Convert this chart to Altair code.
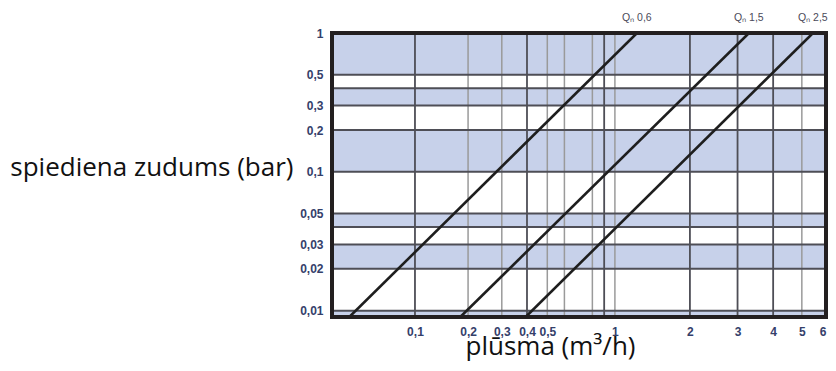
import altair as alt
import pandas as pd

# --- data -------------------------------------------------------------
series = ["Qₙ 0,6", "Qₙ 1,5", "Qₙ 2,5"]
q_top = [1.236, 3.295, 5.443]       # flow (m3/h) where each line meets 1 bar
q_bottom = [0.0379, 0.1815, 0.394]  # flow where each line meets the bottom edge
dp_top = 1.0
dp_bottom = 0.009

x_ticks = [0.1, 0.2, 0.3, 0.4, 0.5, 1, 2, 3, 4, 5, 6]
y_ticks = [1, 0.5, 0.3, 0.2, 0.1, 0.05, 0.03, 0.02, 0.01]

x_grid_major = [0.1, 0.4, 0.9, 2, 3, 4]
x_grid_minor = [0.2, 0.3, 0.5, 0.6, 0.8, 1, 5]
y_grid = [0.5, 0.4, 0.3, 0.2, 0.1, 0.05, 0.04, 0.03, 0.02, 0.01]

band_lo = [0.5, 0.3, 0.1, 0.04, 0.02, 0.009]
band_hi = [1, 0.4, 0.2, 0.05, 0.03, 0.01]

x_domain = [0.0286, 6]
y_domain = [0.009, 1]

# --- tables ------------------------------------------------------------
rows = []
for s, qb, qt in zip(series, q_bottom, q_top):
    rows.append({"series": s, "q": qb, "dp": dp_bottom})
    rows.append({"series": s, "q": qt, "dp": dp_top})
lines_df = pd.DataFrame(rows)
labels_df = pd.DataFrame({"series": series, "q": q_top, "dp": [dp_top] * 3})
bands_df = pd.DataFrame({"dp": band_lo, "hi": band_hi})
vmaj_df = pd.DataFrame({"q": x_grid_major})
vmin_df = pd.DataFrame({"q": x_grid_minor})
hgrid_df = pd.DataFrame({"dp": y_grid})

LABEL_FONT = "Liberation Sans"
TITLE_FONT = "Open Sans"
LABEL_COLOR = "#34406a"

xscale = alt.Scale(type="pow", exponent=0.15, domain=x_domain, nice=False, zero=False)
yscale = alt.Scale(type="log", domain=y_domain, nice=False, zero=False)

x_axis = alt.Axis(
    values=x_ticks,
    format="~g",
    labelExpr="replace(datum.label, '.', ',')",
    grid=False,
    ticks=False,
    tickSize=0,
    domain=False,
    labelFont=LABEL_FONT,
    labelFontSize=12,
    labelFontWeight="bold",
    labelColor=LABEL_COLOR,
    labelPadding=9,
    labelFlush=False,
    labelOverlap=False,
    labelAlign={"condition": {"test": "datum.value >= 6", "value": "right"}, "value": "center"},
    title="plūsma (m³/h)",
    titleFont=TITLE_FONT,
    titleFontSize=26,
    titleFontWeight="normal",
    titleColor="#111111",
    titleX=218,
    titleY=37,
    titleAlign="center",
    titleBaseline="alphabetic",
)
y_axis = alt.Axis(
    values=y_ticks,
    format="~g",
    labelExpr="replace(datum.label, '.', ',')",
    grid=False,
    ticks=False,
    tickSize=0,
    domain=False,
    labelFont=LABEL_FONT,
    labelFontSize=12,
    labelFontWeight="bold",
    labelColor=LABEL_COLOR,
    labelPadding=9,
    labelFlush=False,
    labelOverlap=False,
    title="spiediena zudums (bar)",
    titleFont=TITLE_FONT,
    titleFontSize=26,
    titleFontWeight="normal",
    titleColor="#111111",
    titleAngle=0,
    titleAlign="right",
    titleBaseline="middle",
    titleX=-39,
    titleY=134,
)

bands = alt.Chart(bands_df).mark_rect(color="#c7d1ea").encode(
    y=alt.Y("dp:Q", scale=yscale, axis=y_axis),
    y2="hi:Q",
)

vminor = alt.Chart(vmin_df).mark_rule(color="#9a9a9a", strokeWidth=1.5).encode(
    x=alt.X("q:Q", scale=xscale, axis=x_axis)
)
vmajor = alt.Chart(vmaj_df).mark_rule(color="#4e4e56", strokeWidth=1.8).encode(
    x=alt.X("q:Q", scale=xscale)
)
hgrid = alt.Chart(hgrid_df).mark_rule(color="#4e4e56", strokeWidth=2).encode(
    y=alt.Y("dp:Q", scale=yscale)
)

lines = alt.Chart(lines_df).mark_line(color="#1e1e1e", strokeWidth=2.6, clip=True).encode(
    x=alt.X("q:Q", scale=xscale),
    y=alt.Y("dp:Q", scale=yscale),
    detail="series:N",
)

labels = alt.Chart(labels_df).mark_text(
    align="left", baseline="middle", dx=-15, dy=-15,
    font=LABEL_FONT, fontSize=10.5, color="#4a4a5a",
).encode(
    x=alt.X("q:Q", scale=xscale),
    y=alt.Y("dp:Q", scale=yscale),
    text="series:N",
)

frame = alt.Chart(bands_df).mark_rect(filled=False, stroke="#231f20", strokeWidth=4).encode(
    x=alt.value(0), x2=alt.value("width"), y=alt.value(0), y2=alt.value("height")
)

chart = alt.layer(bands, vminor, vmajor, hgrid, lines, frame, labels).properties(
    width=494,
    height=284,
    autosize=alt.AutoSizeParams(type="none"),
    padding={"left": 324, "top": 25, "right": 2, "bottom": 46},
).configure_view(stroke=None)

chart.save("out.html", embed_options={"renderer": "svg", "actions": False})
